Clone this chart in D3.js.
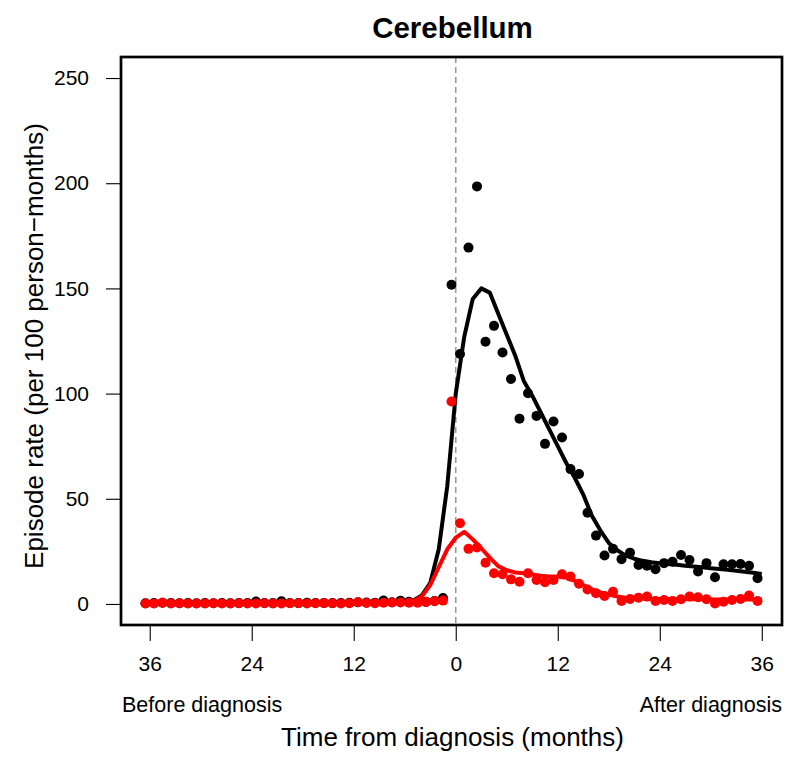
<!DOCTYPE html>
<html>
<head>
<meta charset="utf-8">
<script src="https://cdn.jsdelivr.net/npm/d3@7"></script>
<style>
  html, body { margin: 0; padding: 0; background: #fff; }
  svg { display: block; }
  text { font-family: "Liberation Sans", Arial, Helvetica, sans-serif; fill: #000; }
</style>
</head>
<body>
<svg id="chart" width="800" height="765"></svg>
<script>
// ---------------- DATA ----------------
const title = "Cerebellum";
const yTitle = "Episode rate (per 100 person\u2212months)";
const xTitle = "Time from diagnosis (months)";
const beforeLabel = "Before diagnosis";
const afterLabel = "After diagnosis";

const xTicks = [-36, -24, -12, 0, 12, 24, 36];
const xTickLabels = ["36", "24", "12", "0", "12", "24", "36"];
const yTicks = [0, 50, 100, 150, 200, 250];

// monthly observation points (centre of each month)
const pointMonths = [
  -36.5, -35.5, -34.5, -33.5, -32.5, -31.5, -30.5, -29.5, -28.5, -27.5,
  -26.5, -25.5, -24.5, -23.5, -22.5, -21.5, -20.5, -19.5, -18.5, -17.5,
  -16.5, -15.5, -14.5, -13.5, -12.5, -11.5, -10.5, -9.5, -8.5, -7.5,
  -6.5, -5.5, -4.5, -3.5, -2.5, -1.5, -0.5,
  0.5, 1.5, 2.5, 3.5, 4.5, 5.5, 6.5, 7.5, 8.5, 9.5,
  10.5, 11.5, 12.5, 13.5, 14.5, 15.5, 16.5, 17.5, 18.5, 19.5,
  20.5, 21.5, 22.5, 23.5, 24.5, 25.5, 26.5, 27.5, 28.5, 29.5,
  30.5, 31.5, 32.5, 33.5, 34.5, 35.5
];

// observed rates, black series
const blackPoints = [
  0.3, 0.5, 0.6, 0.4, 0.3, 0.4, 0.3, 0.4, 0.3, 0.5,
  0.3, 0.4, 0.5, 1.2, 0.5, 0.4, 1.3, 0.5, 0.4, 0.6,
  0.5, 0.5, 0.4, 0.5, 0.6, 0.8, 0.7, 0.6, 1.6, 0.8,
  1.5, 1.0, 1.2, 1.0, 1.4, 2.8, 151.7,
  118.8, 169.4, 198.5, 124.7, 132.2, 119.5, 106.9, 88.1, 100.2, 89.4,
  76.1, 86.7, 79.1, 64.1, 61.8, 43.4, 32.5, 23.0, 26.2, 21.3,
  24.4, 18.5, 18.2, 16.5, 19.4, 20.1, 23.3, 20.9, 15.4, 19.4,
  12.7, 18.9, 18.9, 19.0, 18.2, 12.2
];

// observed rates, red series
const redPoints = [
  0.2, 0.2, 0.6, 0.2, 0.3, 0.2, 0.2, 0.2, 0.3, 0.2,
  0.2, 0.3, 0.2, 0.2, 0.3, 0.2, 0.2, 0.3, 0.3, 0.2,
  0.3, 0.4, 0.3, 0.2, 0.3, 0.8, 0.5, 0.3, 0.6, 0.7,
  0.7, 0.6, 0.6, 0.9, 1.3, 1.6, 96.2,
  38.4, 26.2, 26.8, 19.6, 14.6, 14.1, 11.7, 10.6, 14.6, 11.4,
  10.3, 11.4, 14.1, 13.0, 9.6, 6.9, 5.1, 3.8, 5.8, 1.4,
  2.4, 3.0, 3.5, 1.4, 1.9, 1.4, 2.2, 3.5, 3.2, 2.2,
  0.2, 1.1, 1.9, 2.4, 4.0, 1.4
];

// fitted curves, evaluated at whole months
const curveMonths = [
  -36, -35, -34, -33, -32, -31, -30, -29, -28, -27,
  -26, -25, -24, -23, -22, -21, -20, -19, -18, -17,
  -16, -15, -14, -13, -12, -11, -10, -9, -8, -7,
  -6, -5, -4, -3, -2, -1, 0,
  1, 2, 3, 4, 5, 6, 7, 8, 9, 10,
  11, 12, 13, 14, 15, 16, 17, 18, 19, 20,
  21, 22, 23, 24, 25, 26, 27, 28, 29, 30,
  31, 32, 33, 34, 35, 36
];

const blackCurve = [
  0.5, 0.5, 0.5, 0.5, 0.5, 0.5, 0.5, 0.5, 0.5, 0.5,
  0.5, 0.5, 0.5, 0.5, 0.5, 0.5, 0.5, 0.5, 0.5, 0.5,
  0.5, 0.5, 0.5, 0.5, 0.5, 0.6, 0.6, 0.6, 0.7, 0.8,
  1.0, 1.5, 4.0, 10.0, 26.0, 56.0, 100.0,
  127.0, 145.0, 150.0, 148.0, 138.0, 128.0, 118.0, 106.0, 99.0, 91.0,
  83.0, 75.0, 67.0, 60.0, 52.0, 42.0, 35.0, 29.0, 25.5, 23.0,
  21.5, 20.5, 19.8, 19.4, 19.0, 18.6, 18.2, 17.8, 17.4, 17.0,
  16.6, 16.2, 15.8, 15.3, 14.8, 14.3
];

const redCurve = [
  0.3, 0.3, 0.3, 0.3, 0.3, 0.3, 0.3, 0.3, 0.3, 0.3,
  0.3, 0.3, 0.3, 0.3, 0.3, 0.3, 0.3, 0.3, 0.3, 0.3,
  0.3, 0.3, 0.3, 0.3, 0.3, 0.4, 0.4, 0.4, 0.5, 0.6,
  0.8, 1.5, 3.5, 9.0, 17.5, 26.0, 31.5,
  34.3, 30.7, 26.5, 22.0, 18.0, 16.0, 15.0, 14.6, 14.0, 13.4,
  13.0, 13.0, 12.5, 11.0, 9.0, 7.0, 5.5, 4.5, 3.5, 3.0,
  2.8, 2.6, 2.5, 2.4, 2.3, 2.3, 2.3, 2.2, 2.2, 2.1,
  2.1, 2.1, 2.1, 2.1, 2.1, 2.1
];

// ---------------- LAYOUT ----------------
const box = { left: 121, right: 782, top: 57, bottom: 625 };
const svg = d3.select("#chart");

// R-style 4% padding around data range
const xDataMin = d3.min(pointMonths), xDataMax = d3.max(pointMonths);
const xPad = 0.04 * (xDataMax - xDataMin);
const x = d3.scaleLinear()
  .domain([xDataMin - xPad, xDataMax + xPad])
  .range([box.left, box.right]);
const y = d3.scaleLinear()
  .domain([-10, 260])
  .range([box.bottom, box.top]);

// dashed vertical line at diagnosis
svg.append("line")
  .attr("x1", x(0)).attr("x2", x(0))
  .attr("y1", box.top).attr("y2", box.bottom)
  .attr("stroke", "#9a9a9a")
  .attr("stroke-width", 1.6)
  .attr("stroke-dasharray", "6,4");

const plot = svg.append("g");
const line = d3.line().x(d => x(d[0])).y(d => y(d[1]));

function dots(values, color) {
  plot.append("g").selectAll("circle")
    .data(pointMonths.map((m, i) => [m, values[i]]))
    .join("circle")
    .attr("cx", d => x(d[0]))
    .attr("cy", d => y(d[1]))
    .attr("r", 5)
    .attr("fill", color);
}
function curve(values, color) {
  plot.append("path")
    .datum(curveMonths.map((m, i) => [m, values[i]]))
    .attr("d", line)
    .attr("fill", "none")
    .attr("stroke", color)
    .attr("stroke-width", 4)
    .attr("stroke-linejoin", "round");
}

dots(blackPoints, "#000");
curve(blackCurve, "#000");
dots(redPoints, "#ff0000");
curve(redCurve, "#ff0000");

// box
svg.append("rect")
  .attr("x", box.left).attr("y", box.top)
  .attr("width", box.right - box.left).attr("height", box.bottom - box.top)
  .attr("fill", "none").attr("stroke", "#000").attr("stroke-width", 2.7);

// y axis
const yAxis = d3.axisLeft(y).tickValues(yTicks).tickSize(15).tickPadding(17).tickFormat(d3.format("d"));
const gy = svg.append("g").attr("transform", `translate(${box.left},0)`).call(yAxis);
gy.select(".domain").remove();
gy.selectAll(".tick line").attr("stroke", "#000").attr("stroke-width", 1.1);
gy.selectAll(".tick text").attr("font-size", 21).attr("font-family", "Liberation Sans, Arial, sans-serif");

// x axis
const xAxis = d3.axisBottom(x).tickValues(xTicks).tickSize(16).tickPadding(15)
  .tickFormat((d, i) => xTickLabels[i]);
const gx = svg.append("g").attr("transform", `translate(0,${box.bottom})`).call(xAxis);
gx.select(".domain").remove();
gx.selectAll(".tick line").attr("stroke", "#000").attr("stroke-width", 1.1);
gx.selectAll(".tick text").attr("font-size", 21).attr("font-family", "Liberation Sans, Arial, sans-serif");

// sub labels
svg.append("text").attr("x", box.left + 1).attr("y", 712)
  .attr("font-size", 21.5).text(beforeLabel);
svg.append("text").attr("x", box.right).attr("y", 712)
  .attr("font-size", 21.5).attr("text-anchor", "end").text(afterLabel);

// axis titles
svg.append("text").attr("x", (box.left + box.right) / 2 + 1).attr("y", 746)
  .attr("font-size", 26).attr("text-anchor", "middle").text(xTitle);
svg.append("text")
  .attr("transform", `translate(43,${(box.top + box.bottom) / 2 + 5}) rotate(-90)`)
  .attr("font-size", 26).attr("text-anchor", "middle").text(yTitle);

// main title
svg.append("text").attr("x", (box.left + box.right) / 2 + 1).attr("y", 38)
  .attr("font-size", 29.5).attr("font-weight", "bold").attr("text-anchor", "middle").text(title);
</script>
</body>
</html>
